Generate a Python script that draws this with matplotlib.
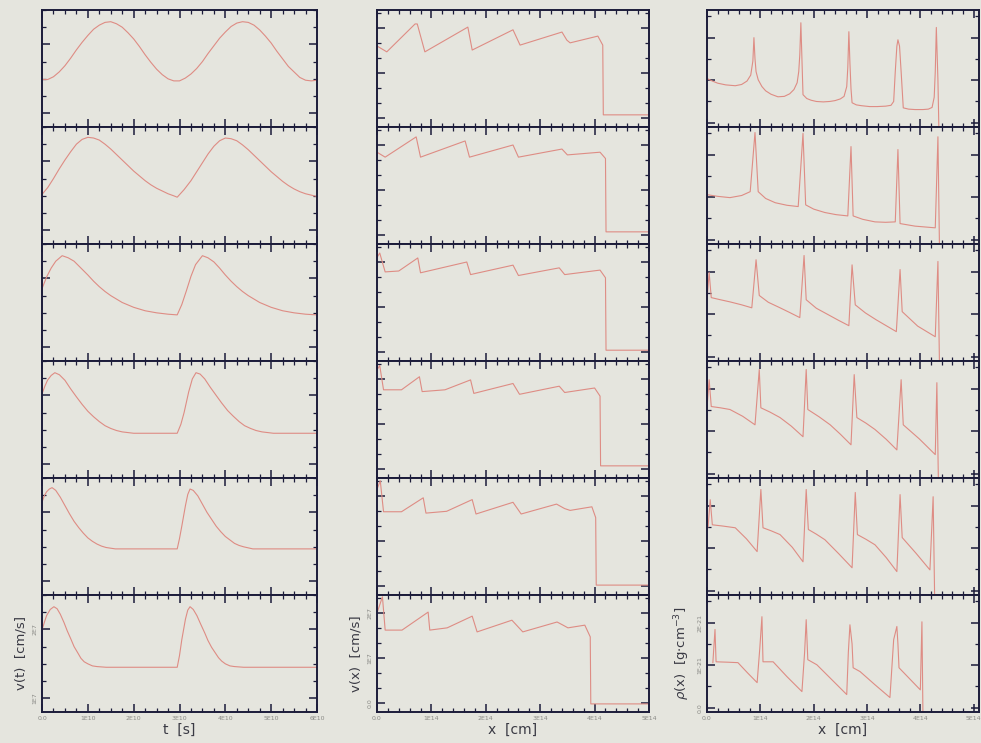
import matplotlib
matplotlib.use("Agg")
import matplotlib.pyplot as plt
from matplotlib.ticker import MultipleLocator, FixedLocator, FixedFormatter

# ---------------- velocity at a fixed point, v(t)  [1E10 s, 1E7 cm/s] ----------------
VT1_T = [0, 0.125, 0.25, 0.375, 0.5, 0.625, 0.75, 0.875, 1.0, 1.125, 1.25, 1.375, 1.5,
         1.625, 1.75, 1.875, 2.0, 2.125, 2.25, 2.375, 2.5, 2.625, 2.75, 2.875, 3.0,
         3.125, 3.25, 3.375, 3.5, 3.625, 3.75, 3.875, 4.0, 4.125, 4.25, 4.375, 4.5,
         4.625, 4.75, 4.875, 5.0, 5.125, 5.25, 5.375, 5.5, 5.625, 5.75, 5.875, 6.0]
VT1_V = [1.49, 1.49, 1.53, 1.60, 1.69, 1.80, 1.92, 2.03, 2.13, 2.22, 2.28, 2.32, 2.33,
         2.30, 2.25, 2.17, 2.08, 1.97, 1.85, 1.74, 1.64, 1.56, 1.50, 1.47, 1.47,
         1.51, 1.57, 1.65, 1.75, 1.87, 1.98, 2.09, 2.18, 2.26, 2.31, 2.33, 2.32,
         2.28, 2.21, 2.12, 2.02, 1.90, 1.79, 1.68, 1.60, 1.52, 1.48, 1.47, 1.48]

VT2_T = [0, 0.125, 0.25, 0.375, 0.5, 0.625, 0.75, 0.875, 1.0, 1.125, 1.25, 1.375, 1.5,
         1.625, 1.75, 1.875, 2.0, 2.125, 2.25, 2.375, 2.5, 2.625, 2.75, 2.875, 2.95,
         3.1, 3.25, 3.375, 3.5, 3.625, 3.75, 3.875, 4.0, 4.125, 4.25, 4.375, 4.5,
         4.625, 4.75, 4.875, 5.0, 5.125, 5.25, 5.375, 5.5, 5.625, 5.75, 5.875, 6.0]
VT2_V = [1.52, 1.62, 1.75, 1.89, 2.02, 2.14, 2.25, 2.32, 2.35, 2.34, 2.31, 2.25, 2.18,
         2.10, 2.02, 1.94, 1.86, 1.79, 1.72, 1.66, 1.61, 1.57, 1.53, 1.50, 1.48,
         1.59, 1.72, 1.85, 1.98, 2.11, 2.22, 2.30, 2.34, 2.33, 2.30, 2.24, 2.17,
         2.09, 2.01, 1.93, 1.85, 1.78, 1.71, 1.65, 1.60, 1.56, 1.53, 1.51, 1.49]

VT3_T = [0, 0.1, 0.2, 0.3, 0.44, 0.57, 0.7, 0.85, 1.0, 1.125, 1.25, 1.375, 1.5, 1.75,
         2.0, 2.25, 2.5, 2.75, 2.95, 3.05, 3.15, 3.25, 3.35, 3.5, 3.62, 3.75, 3.875,
         4.0, 4.125, 4.25, 4.375, 4.5, 4.75, 5.0, 5.25, 5.5, 5.75, 6.0]
VT3_V = [1.85, 2.02, 2.15, 2.25, 2.33, 2.30, 2.25, 2.15, 2.05, 1.96, 1.88, 1.81, 1.75, 1.65,
         1.58, 1.53, 1.50, 1.48, 1.47, 1.62, 1.82, 2.03, 2.20, 2.33, 2.30, 2.24, 2.15,
         2.05, 1.96, 1.88, 1.81, 1.75, 1.65, 1.58, 1.53, 1.50, 1.48, 1.47]

VT4_T = [0, 0.06, 0.12, 0.2, 0.28, 0.38, 0.5, 0.62, 0.75, 0.875, 1.0, 1.125, 1.25,
         1.375, 1.5, 1.625, 1.75, 2.0, 2.95, 3.03, 3.1, 3.2, 3.28, 3.36, 3.45, 3.55,
         3.67, 3.8, 3.92, 4.05, 4.17, 4.3, 4.42, 4.55, 4.67, 4.8, 5.05, 6.0]
VT4_V = [2.02, 2.13, 2.22, 2.29, 2.33, 2.30, 2.22, 2.10, 1.98, 1.87, 1.77, 1.69, 1.62,
         1.56, 1.52, 1.49, 1.47, 1.45, 1.45, 1.58, 1.75, 2.05, 2.24, 2.33, 2.31, 2.24,
         2.12, 2.00, 1.89, 1.78, 1.70, 1.62, 1.56, 1.52, 1.49, 1.47, 1.45, 1.45]

VT5_T = [0, 0.05, 0.1, 0.16, 0.22, 0.3, 0.4, 0.5, 0.6, 0.7, 0.8, 0.9, 1.0, 1.1, 1.2,
         1.3, 1.4, 1.6, 2.95, 3.0, 3.05, 3.13, 3.18, 3.23, 3.3, 3.4, 3.5, 3.6, 3.7,
         3.8, 3.9, 4.0, 4.1, 4.2, 4.3, 4.4, 4.6, 6.0]
VT5_V = [2.15, 2.24, 2.30, 2.34, 2.36, 2.32, 2.22, 2.10, 1.98, 1.87, 1.78, 1.70, 1.63,
         1.58, 1.54, 1.51, 1.49, 1.47, 1.47, 1.62, 1.80, 2.10, 2.26, 2.34, 2.32, 2.24,
         2.12, 2.00, 1.90, 1.80, 1.72, 1.65, 1.60, 1.55, 1.52, 1.50, 1.47, 1.47]

VT6_T = [0, 0.05, 0.1, 0.18, 0.26, 0.33, 0.4, 0.48, 0.55, 0.63, 0.7, 0.78, 0.85, 0.92,
         1.0, 1.1, 1.2, 1.4, 2.95, 3.0, 3.05, 3.13, 3.18, 3.23, 3.3, 3.38, 3.46, 3.55,
         3.62, 3.7, 3.78, 3.85, 3.92, 4.0, 4.1, 4.2, 4.4, 6.0]
VT6_V = [1.99, 2.10, 2.20, 2.29, 2.33, 2.30, 2.22, 2.10, 1.98, 1.86, 1.75, 1.66, 1.58,
         1.53, 1.50, 1.47, 1.46, 1.45, 1.45, 1.62, 1.85, 2.15, 2.28, 2.33, 2.29, 2.20,
         2.08, 1.95, 1.84, 1.74, 1.66, 1.59, 1.54, 1.50, 1.47, 1.46, 1.45, 1.45]

# ---------------- velocity profile v(x)  [1E14 cm, 1E7 cm/s] ----------------
VX1_X = [0, 0.18, 0.70, 0.74, 0.88, 1.67, 1.75, 2.50, 2.63, 3.40, 3.49, 3.55, 4.06, 4.15, 4.16, 5.0]
VX1_V = [1.60, 1.47, 2.09, 2.09, 1.47, 2.02, 1.51, 1.96, 1.62, 1.91, 1.73, 1.67, 1.82, 1.62, 0.07, 0.07]

VX2_X = [0, 0.15, 0.72, 0.80, 1.62, 1.70, 2.50, 2.60, 3.40, 3.50, 4.10, 4.20, 4.21, 5.0]
VX2_V = [1.84, 1.73, 2.18, 1.73, 2.09, 1.73, 2.00, 1.73, 1.91, 1.78, 1.84, 1.70, 0.07, 0.07]

VX3_X = [0, 0.05, 0.15, 0.40, 0.75, 0.80, 1.65, 1.72, 2.50, 2.60, 3.35, 3.45, 4.10, 4.20, 4.21, 5.0]
VX3_V = [2.10, 2.20, 1.78, 1.80, 2.09, 1.76, 2.00, 1.72, 1.93, 1.70, 1.87, 1.72, 1.82, 1.65, 0.04, 0.04]

VX4_X = [0, 0.05, 0.12, 0.45, 0.78, 0.83, 1.25, 1.72, 1.78, 2.50, 2.62, 3.35, 3.45, 4.00, 4.10, 4.11, 5.0]
VX4_V = [2.20, 2.30, 1.76, 1.76, 2.05, 1.72, 1.76, 1.98, 1.68, 1.90, 1.66, 1.84, 1.70, 1.80, 1.62, 0.07, 0.07]

VX5_X = [0, 0.06, 0.12, 0.45, 0.85, 0.90, 1.28, 1.75, 1.82, 2.50, 2.65, 3.30, 3.45, 3.55, 3.95, 4.02, 4.03, 5.0]
VX5_V = [2.15, 2.34, 1.65, 1.65, 1.96, 1.62, 1.66, 1.92, 1.60, 1.86, 1.60, 1.82, 1.72, 1.68, 1.76, 1.52, 0.02, 0.02]

VX6_X = [0, 0.10, 0.15, 0.46, 0.94, 0.97, 1.29, 1.75, 1.84, 2.48, 2.68, 3.31, 3.42, 3.51, 3.82, 3.92, 3.93, 5.0]
VX6_V = [2.00, 2.36, 1.62, 1.62, 2.02, 1.62, 1.67, 1.93, 1.58, 1.84, 1.58, 1.80, 1.73, 1.67, 1.73, 1.47, -0.02, -0.02]

# ---------------- density profile rho(x)  [1E14 cm, 1E-21 g/cm^3] ----------------
RX1_X = [0, 0.1, 0.2, 0.35, 0.53, 0.65, 0.75, 0.82, 0.86, 0.88, 0.90, 0.92, 0.96, 1.03,
         1.1, 1.2, 1.33, 1.45, 1.55, 1.63, 1.69, 1.72, 1.74, 1.76, 1.78, 1.80, 1.87,
         1.95, 2.05, 2.18, 2.3, 2.4, 2.5, 2.57, 2.62, 2.64, 2.66, 2.68, 2.70, 2.72,
         2.8, 2.9, 3.05, 3.19, 3.35, 3.45, 3.50, 3.53, 3.56, 3.58, 3.61, 3.64, 3.68,
         3.78, 3.9, 4.05, 4.15, 4.22, 4.26, 4.28, 4.30, 4.33, 4.35]
RX1_R = [1.04, 0.98, 0.93, 0.89, 0.87, 0.90, 0.98, 1.12, 1.45, 2.00, 1.50, 1.20, 1.01, 0.85,
         0.75, 0.67, 0.61, 0.62, 0.68, 0.78, 0.94, 1.20, 1.60, 2.35, 1.50, 0.66, 0.57,
         0.53, 0.50, 0.49, 0.50, 0.52, 0.56, 0.62, 0.85, 1.30, 2.14, 1.40, 0.80, 0.47,
         0.42, 0.40, 0.38, 0.38, 0.39, 0.41, 0.50, 1.20, 1.80, 1.95, 1.80, 1.20, 0.35,
         0.32, 0.31, 0.31, 0.32, 0.36, 0.60, 1.20, 2.24, 1.00, -0.30]

RX2_X = [0, 0.2, 0.43, 0.65, 0.81, 0.90, 0.96, 1.1, 1.28, 1.5, 1.71, 1.80, 1.85, 2.0,
         2.21, 2.42, 2.64, 2.70, 2.74, 2.92, 3.15, 3.35, 3.53, 3.58, 3.62, 3.9, 4.28,
         4.33, 4.36]
RX2_R = [1.06, 1.02, 0.99, 1.04, 1.13, 2.52, 1.13, 0.97, 0.87, 0.81, 0.78, 2.50, 0.82, 0.72,
         0.64, 0.59, 0.56, 2.19, 0.56, 0.48, 0.42, 0.41, 0.42, 2.12, 0.38, 0.32, 0.28,
         2.42, -0.30]

RX3_X = [0, 0.04, 0.08, 0.25, 0.43, 0.65, 0.84, 0.92, 0.98, 1.15, 1.37, 1.55, 1.74, 1.82,
         1.86, 2.05, 2.27, 2.46, 2.66, 2.72, 2.78, 2.97, 3.17, 3.36, 3.55, 3.62, 3.66,
         3.95, 4.28, 4.33, 4.36]
RX3_R = [1.34, 1.98, 1.39, 1.34, 1.29, 1.22, 1.15, 2.28, 1.44, 1.28, 1.15, 1.04, 0.92, 2.38,
         1.34, 1.14, 0.99, 0.86, 0.73, 2.16, 1.22, 1.03, 0.87, 0.73, 0.59, 2.05, 1.06,
         0.72, 0.47, 2.24, -0.30]

RX4_X = [0, 0.04, 0.08, 0.25, 0.43, 0.67, 0.90, 0.98, 1.01, 1.18, 1.37, 1.58, 1.80, 1.86,
         1.89, 2.1, 2.31, 2.5, 2.70, 2.76, 2.81, 2.98, 3.15, 3.36, 3.56, 3.64, 3.68,
         3.98, 4.28, 4.31, 4.34]
RX4_R = [1.55, 2.21, 1.58, 1.55, 1.51, 1.35, 1.15, 2.45, 1.55, 1.45, 1.32, 1.12, 0.87, 2.45,
         1.51, 1.34, 1.15, 0.93, 0.68, 2.33, 1.32, 1.19, 1.04, 0.81, 0.56, 2.21, 1.15,
         0.82, 0.45, 2.14, -0.30]

RX5_X = [0.02, 0.06, 0.10, 0.3, 0.53, 0.74, 0.94, 1.01, 1.05, 1.2, 1.37, 1.6, 1.80, 1.86,
         1.90, 2.05, 2.21, 2.47, 2.72, 2.78, 2.82, 2.98, 3.15, 3.36, 3.56, 3.62, 3.66,
         3.92, 4.18, 4.24, 4.27]
RX5_R = [1.50, 2.14, 1.55, 1.52, 1.48, 1.22, 0.92, 2.38, 1.48, 1.41, 1.32, 1.02, 0.68, 2.38,
         1.44, 1.33, 1.20, 0.87, 0.54, 2.31, 1.32, 1.21, 1.08, 0.78, 0.45, 2.26, 1.25,
         0.88, 0.49, 2.21, -0.30]

RX6_X = [0.11, 0.15, 0.17, 0.40, 0.58, 0.76, 0.94, 0.99, 1.03, 1.05, 1.24, 1.50, 1.78, 1.83,
         1.86, 1.89, 2.06, 2.34, 2.62, 2.65, 2.68, 2.72, 2.74, 2.87, 3.15, 3.43, 3.50,
         3.56, 3.58, 3.60, 3.80, 4.00, 4.03, 4.05]
RX6_R = [1.06, 1.84, 1.08, 1.07, 1.06, 0.82, 0.59, 1.40, 2.14, 1.08, 1.08, 0.73, 0.38, 1.30,
         2.07, 1.13, 1.01, 0.66, 0.31, 1.30, 1.95, 1.50, 0.94, 0.85, 0.54, 0.24, 1.60,
         1.91, 1.50, 0.94, 0.68, 0.42, 2.02, -0.30]

# tick labels shown under / beside the bottom row
T_TICKS = [0, 1, 2, 3, 4, 5, 6]
T_LABELS = ["0.0", "1E10", "2E10", "3E10", "4E10", "5E10", "6E10"]
X_TICKS = [0, 1, 2, 3, 4, 5]
X_LABELS = ["0.0", "1E14", "2E14", "3E14", "4E14", "5E14"]
VT_YTICKS = [1, 2]
VT_YLABELS = ["1E7", "2E7"]
VX_YTICKS = [0, 1, 2]
VX_YLABELS = ["0.0", "1E7", "2E7"]
RX_YTICKS = [0, 1, 2]
RX_YLABELS = ["0.0", "1E-21", "2E-21"]

columns = [
    dict(curves=[(VT1_T, VT1_V), (VT2_T, VT2_V), (VT3_T, VT3_V),
                 (VT4_T, VT4_V), (VT5_T, VT5_V), (VT6_T, VT6_V)],
         left=42, width=275, xlim=(0, 6), ylim=(0.8, 2.5),
         xminor=0.25, yminor=0.25,
         xticks=T_TICKS, xlabels=T_LABELS, yticks=VT_YTICKS, ylabels=VT_YLABELS,
         xlabel="t  [s]", ylabel="v(t)  [cm/s]"),
    dict(curves=[(VX1_X, VX1_V), (VX2_X, VX2_V), (VX3_X, VX3_V),
                 (VX4_X, VX4_V), (VX5_X, VX5_V), (VX6_X, VX6_V)],
         left=377, width=272, xlim=(0, 5), ylim=(-0.2, 2.4),
         xminor=0.2, yminor=1 / 3,
         xticks=X_TICKS, xlabels=X_LABELS, yticks=VX_YTICKS, ylabels=VX_YLABELS,
         xlabel="x  [cm]", ylabel="v(x)  [cm/s]"),
    dict(curves=[(RX1_X, RX1_R), (RX2_X, RX2_R), (RX3_X, RX3_R),
                 (RX4_X, RX4_R), (RX5_X, RX5_R), (RX6_X, RX6_R)],
         left=707, width=272, xlim=(0, 5.1), ylim=(-0.1, 2.65),
         xminor=0.2, yminor=0.5,
         xticks=X_TICKS, xlabels=X_LABELS, yticks=RX_YTICKS, ylabels=RX_YLABELS,
         xlabel="x  [cm]", ylabel=r"$\rho$(x)  [g$\cdot$cm$^{-3}$]"),
]

W, H = 981, 743
BG = "#e5e5de"
FRAME = "#1c1c3a"
LINE = "#de8c84"

fig = plt.figure(figsize=(W / 100, H / 100), dpi=100, facecolor=BG)

TOP = 10
ROW_H = 117
N_ROWS = 6

for col in columns:
    for i, (xs, ys) in enumerate(col["curves"]):
        top_px = TOP + ROW_H * i
        ax = fig.add_axes([col["left"] / W, 1 - (top_px + ROW_H) / H,
                           col["width"] / W, ROW_H / H])
        ax.set_facecolor(BG)
        ax.plot(xs, ys, color=LINE, lw=0.8, solid_joinstyle="round")
        ax.set_xlim(*col["xlim"])
        ax.set_ylim(*col["ylim"])
        ax.xaxis.set_major_locator(FixedLocator(col["xticks"]))
        ax.yaxis.set_major_locator(FixedLocator(col["yticks"]))
        ax.xaxis.set_minor_locator(MultipleLocator(col["xminor"]))
        ax.yaxis.set_minor_locator(MultipleLocator(col["yminor"]))
        for s in ax.spines.values():
            s.set_color(FRAME)
            s.set_linewidth(1.4)
        ax.tick_params(which="both", direction="in", top=True, right=True,
                       color=FRAME)
        ax.tick_params(which="major", length=6, width=1.1)
        ax.tick_params(which="minor", length=3, width=0.9)
        last = i == N_ROWS - 1
        if last:
            ax.xaxis.set_major_formatter(FixedFormatter(col["xlabels"]))
            ax.yaxis.set_major_formatter(FixedFormatter(col["ylabels"]))
            ax.tick_params(axis="x", labelsize=4.5, labelcolor="#8a8a86", pad=3)
            ax.tick_params(axis="y", labelsize=4.5, labelcolor="#8a8a86", pad=3)
            for lab in ax.get_yticklabels():
                lab.set_rotation(90)
                lab.set_va("center")
            ax.set_xlabel(col["xlabel"], fontsize=10, color="#3a3a44", labelpad=1)
            ax.set_ylabel(col["ylabel"], fontsize=9.5, color="#3a3a44", labelpad=4)
        else:
            ax.tick_params(labelbottom=False, labelleft=False)

fig.savefig("out.png", dpi=100, facecolor=BG)
